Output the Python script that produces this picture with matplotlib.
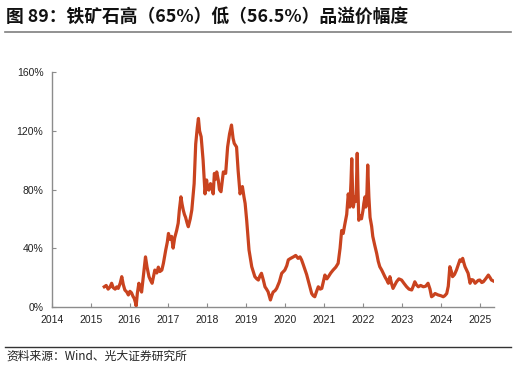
import matplotlib
matplotlib.use("Agg")
import matplotlib.pyplot as plt
from matplotlib.lines import Line2D

plt.rcParams['font.family'] = ['Liberation Sans', 'Noto Sans CJK SC', 'DejaVu Sans']

# 日期（小数年）与溢价幅度（%）
dates = [2015.35, 2015.40, 2015.45, 2015.50, 2015.54, 2015.58, 2015.63, 2015.67, 2015.71, 2015.76,
         2015.80, 2015.84, 2015.88, 2015.93, 2015.97, 2016.01, 2016.05, 2016.09, 2016.12, 2016.15,
         2016.17, 2016.20, 2016.24, 2016.28, 2016.31, 2016.36, 2016.41, 2016.45, 2016.50, 2016.54,
         2016.58, 2016.62, 2016.65, 2016.70, 2016.74, 2016.78, 2016.83, 2016.87, 2016.93, 2016.97,
         2017.00, 2017.04, 2017.08, 2017.12, 2017.16, 2017.21, 2017.25, 2017.28, 2017.32, 2017.35,
         2017.38, 2017.41, 2017.44, 2017.48, 2017.51, 2017.56, 2017.60, 2017.63, 2017.66, 2017.70,
         2017.74, 2017.77, 2017.80, 2017.84, 2017.89, 2017.94, 2017.98, 2018.01, 2018.04, 2018.08,
         2018.11, 2018.15, 2018.18, 2018.21, 2018.24, 2018.28, 2018.31, 2018.35, 2018.38, 2018.41,
         2018.47, 2018.52, 2018.57, 2018.62, 2018.66, 2018.69, 2018.75, 2018.79, 2018.84, 2018.87,
         2018.90, 2018.94, 2018.97, 2019.01, 2019.07, 2019.14, 2019.18, 2019.22, 2019.27, 2019.31,
         2019.35, 2019.39, 2019.44, 2019.48, 2019.52, 2019.56, 2019.62, 2019.66, 2019.69, 2019.74,
         2019.78, 2019.85, 2019.91, 2019.99, 2020.04, 2020.08, 2020.14, 2020.21, 2020.27, 2020.33,
         2020.38, 2020.42, 2020.46, 2020.51, 2020.55, 2020.59, 2020.64, 2020.68, 2020.72, 2020.76,
         2020.80, 2020.85, 2020.90, 2020.94, 2020.98, 2021.02, 2021.07, 2021.11, 2021.17, 2021.23,
         2021.30, 2021.36, 2021.41, 2021.45, 2021.49, 2021.53, 2021.58, 2021.62, 2021.66, 2021.69,
         2021.71, 2021.73, 2021.75, 2021.79, 2021.82, 2021.85, 2021.87, 2021.89, 2021.93, 2021.96,
         2022.00, 2022.02, 2022.05, 2022.07, 2022.10, 2022.12, 2022.15, 2022.18, 2022.22, 2022.25,
         2022.30, 2022.35, 2022.39, 2022.43, 2022.48, 2022.52, 2022.57, 2022.61, 2022.65, 2022.69,
         2022.73, 2022.77, 2022.82, 2022.86, 2022.92, 2022.99, 2023.05, 2023.12, 2023.18, 2023.25,
         2023.29, 2023.33, 2023.37, 2023.42, 2023.48, 2023.55, 2023.61, 2023.67, 2023.72, 2023.76,
         2023.80, 2023.85, 2023.89, 2023.93, 2024.00, 2024.06, 2024.10, 2024.15, 2024.19, 2024.23,
         2024.27, 2024.30, 2024.35, 2024.40, 2024.45, 2024.49, 2024.53, 2024.56, 2024.59, 2024.62,
         2024.66, 2024.70, 2024.75, 2024.79, 2024.83, 2024.88, 2024.92, 2024.96, 2025.00, 2025.05,
         2025.09, 2025.15, 2025.22, 2025.26, 2025.30, 2025.35, 2025.39]

premium = [13.6, 14.5, 12.0, 13.5, 16.0, 13.0, 12.0, 13.5, 12.5, 16.0,
           20.5, 15.0, 11.4, 10.0, 8.0, 10.5, 9.5, 7.0, 5.7, 3.0,
           0.5, 9.0, 16.0, 12.0, 10.0, 22.0, 34.0, 27.0, 20.5, 18.0,
           16.0, 21.0, 25.0, 23.0, 27.0, 24.0, 25.0, 29.6, 38.7, 44.0,
           50.0, 46.0, 48.0, 40.0, 47.0, 52.0, 57.0, 66.0, 75.0, 70.0,
           66.0, 63.0, 61.0, 57.0, 54.6, 60.0, 66.0, 75.0, 84.0, 111.0,
           122.0, 128.5, 120.0, 116.0, 100.0, 77.0, 86.5, 80.0, 79.6, 84.0,
           82.0, 77.0, 91.0, 87.0, 92.0, 86.5, 80.0, 78.5, 85.0, 92.0,
           91.0, 109.0, 118.0, 124.0, 115.0, 111.5, 109.0, 93.0, 77.0, 80.0,
           82.0, 75.0, 70.5, 59.0, 38.7, 27.3, 24.0, 20.5, 19.0, 18.2,
           21.0, 22.8, 18.0, 13.6, 12.0, 10.2, 4.6, 8.0, 10.0, 11.0,
           12.5, 17.0, 22.8, 25.0, 28.0, 32.0, 33.0, 34.0, 35.0, 33.0,
           34.0, 32.0, 29.0, 25.0, 22.0, 18.0, 13.0, 9.0, 7.5, 6.8,
           10.0, 13.6, 12.0, 12.5, 17.0, 21.6, 19.0, 20.5, 23.0, 25.0,
           27.0, 29.6, 40.0, 52.0, 50.0, 56.0, 63.0, 77.0, 68.0, 85.0,
           101.0, 80.0, 68.0, 75.0, 72.0, 104.7, 80.0, 59.0, 62.0, 60.0,
           66.0, 70.5, 75.0, 68.0, 78.0, 96.7, 75.0, 61.0, 55.0, 48.0,
           42.0, 36.4, 31.0, 27.3, 25.0, 22.8, 20.0, 18.2, 16.0, 20.5,
           16.0, 12.5, 15.0, 17.0, 19.0, 18.2, 16.0, 13.6, 12.0, 11.4,
           14.0, 17.0, 15.0, 13.6, 14.5, 13.6, 14.0, 16.0, 12.0, 6.8,
           7.5, 9.0, 8.5, 8.0, 7.5, 6.8, 7.5, 9.0, 14.0, 27.3,
           24.0, 20.5, 22.0, 25.0, 29.0, 32.0, 31.0, 33.0, 30.0, 27.3,
           25.0, 22.8, 16.0, 18.5, 18.2, 16.0, 17.0, 18.0, 18.2, 16.5,
           17.0, 19.0, 21.6, 20.0, 18.2, 17.5, 17.0]

xticks = list(range(2014, 2026))
yticks = [0, 40, 80, 120, 160]
line_color = '#C9431F'
axis_color = '#8C8C8C'

fig = plt.figure(figsize=(5.16, 3.67), dpi=100)
ax = fig.add_axes([0.1002, 0.1643, 0.8568, 0.6387])

ax.plot(dates, premium, color=line_color, linewidth=2.3, solid_joinstyle='round')

ax.set_xlim(2014, 2025.36)
ax.set_ylim(0, 160)
ax.set_xticks(xticks)
ax.set_xticklabels([str(x) for x in xticks])
ax.set_yticks(yticks)
ax.set_yticklabels([f'{y}%' for y in yticks])

for s in ['top', 'right']:
    ax.spines[s].set_visible(False)
for s in ['left', 'bottom']:
    ax.spines[s].set_color(axis_color)
    ax.spines[s].set_linewidth(1.0)

ax.tick_params(axis='both', direction='in', length=3, width=0.8, color=axis_color,
               labelsize=7.5, labelcolor='#222222', pad=6)

# 标题与来源
fig.text(0.012, 0.953, '图 89：铁矿石高（65%）低（56.5%）品溢价幅度',
         family=['Noto Sans CJK SC', 'DejaVu Sans'], fontsize=12.8, fontweight='bold',
         color='#111111', va='center', ha='left')
fig.add_artist(Line2D([0.010, 0.990], [0.913, 0.913], transform=fig.transFigure,
                      color='#7F7F7F', linewidth=1.2))
fig.add_artist(Line2D([0.010, 0.990], [0.055, 0.055], transform=fig.transFigure,
                      color='#333333', linewidth=1.0))
fig.text(0.012, 0.030, '资料来源：Wind、光大证券研究所',
         family=['Noto Sans CJK SC', 'DejaVu Sans'], fontsize=8.5,
         color='#222222', va='center', ha='left')

fig.savefig('out.png', dpi=100)
